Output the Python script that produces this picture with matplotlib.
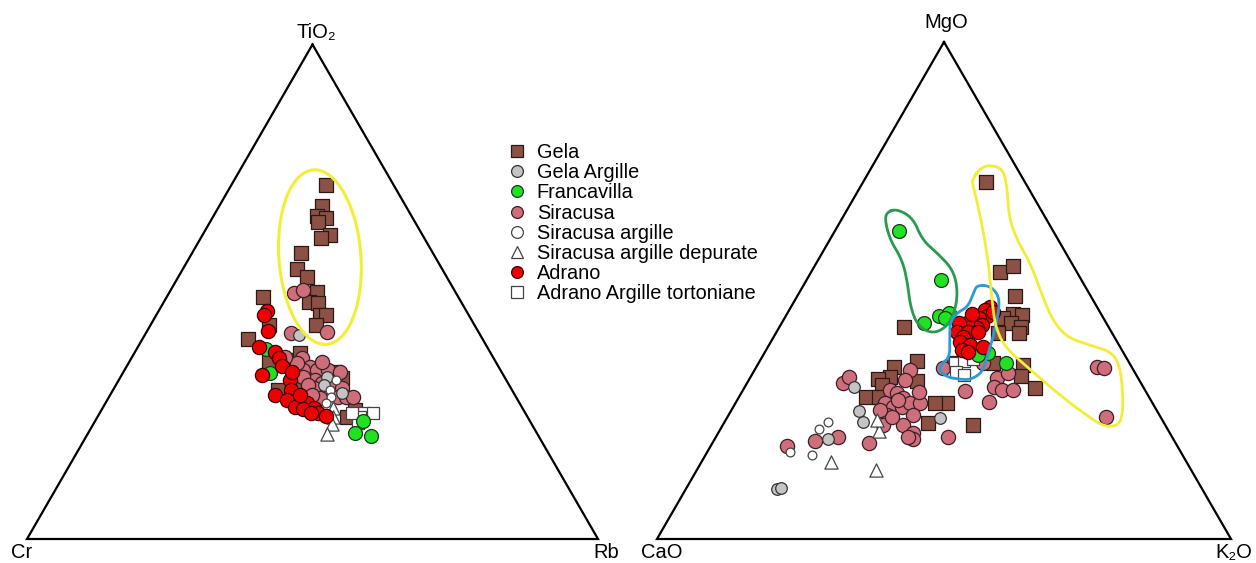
import numpy as np
import matplotlib.pyplot as plt
from matplotlib.lines import Line2D
from matplotlib.patches import Ellipse

plt.rcParams['font.family'] = ['Liberation Sans', 'DejaVu Sans']

# left diagram: (TiO2, Cr, Rb) in %
gela_a = [(71.6, 11.8, 16.6), (67.3, 14.6, 18.1), (65.3, 16.6, 18.1), (64.9, 15.2, 19.9), (64.1, 16.9, 19.0),
          (61.5, 16.2, 22.3), (60.9, 18.1, 21.0), (57.8, 23.1, 19.1), (54.6, 25.4, 20.0), (53.0, 24.5, 22.5),
          (49.9, 24.3, 25.8), (47.9, 26.7, 25.4), (47.7, 25.1, 27.2), (45.3, 26.1, 28.6), (45.3, 25.0, 29.7),
          (43.3, 27.8, 28.9), (48.9, 34.3, 16.8), (43.3, 36.0, 20.7), (40.4, 41.1, 18.5), (35.8, 39.7, 24.5),
          (36.2, 35.3, 28.5), (37.6, 33.4, 29.0), (30.7, 36.5, 32.8), (30.1, 41.0, 28.9), (32.8, 29.7, 37.5),
          (24.7, 31.6, 43.7), (26.1, 29.5, 44.4), (32.6, 28.5, 38.9), (33.8, 29.2, 37.0)]
siracusa_a = [(49.7, 28.4, 21.9), (50.4, 26.5, 23.1), (41.9, 26.5, 31.6), (41.7, 32.9, 25.4), (36.6, 33.5, 29.9),
              (34.8, 33.0, 32.2), (34.2, 34.6, 31.2), (34.2, 32.1, 33.7), (34.2, 30.2, 35.6), (32.2, 33.5, 34.3),
              (32.8, 35.3, 31.9), (31.5, 32.6, 35.9), (31.5, 30.7, 37.8), (30.5, 29.5, 40.0), (30.5, 34.4, 35.1),
              (29.1, 33.0, 37.9), (28.7, 31.2, 40.1), (28.7, 29.7, 41.6), (28.7, 28.6, 42.7), (28.5, 34.5, 37.0),
              (31.1, 35.3, 33.6), (35.6, 34.9, 29.5), (36.8, 36.4, 26.8), (35.8, 30.4, 33.8), (33.8, 28.3, 37.9),
              (29.1, 35.5, 35.4)]
gela_arg_a = [(41.3, 31.7, 27.0), (32.8, 31.1, 36.1), (31.1, 32.4, 36.5), (29.5, 30.0, 40.5)]
sir_arg_a = [(32.2, 29.8, 38.0), (30.1, 31.9, 38.0), (28.7, 32.4, 38.9), (27.5, 33.9, 38.6)]
sir_dep_a = [(26.5, 33.2, 40.3), (24.7, 34.1, 41.2), (23.3, 34.9, 41.8), (21.2, 36.9, 41.9)]
adr_arg_a = [(25.5, 28.3, 46.2), (25.5, 26.7, 47.8), (24.7, 29.3, 46.0), (23.5, 30.3, 46.2), (25.5, 30.3, 44.2)]
franc_a = [(33.6, 40.6, 25.8), (28.5, 38.5, 33.0), (23.9, 29.2, 46.9), (21.4, 31.9, 46.7), (20.8, 29.4, 49.8),
           (38.4, 38.9, 22.7)]
adrano_a = [(46.1, 34.9, 19.0), (45.3, 35.8, 18.9), (42.1, 36.7, 21.2), (38.8, 40.0, 21.2), (37.8, 37.7, 24.5),
            (36.6, 37.6, 25.8), (35.0, 37.8, 27.2), (33.2, 42.2, 24.6), (32.2, 37.8, 30.0), (30.1, 38.8, 31.1),
            (29.1, 42.0, 28.9), (28.1, 40.4, 31.5), (26.7, 39.7, 33.6), (27.5, 37.3, 35.2), (26.5, 36.4, 37.1),
            (25.5, 36.2, 38.3), (24.9, 35.1, 40.0), (26.3, 38.6, 35.1), (25.5, 37.6, 36.9), (33.8, 36.7, 29.5),
            (29.1, 37.6, 33.3)]

# right diagram: (MgO, CaO, K2O) in %
gela_b = [(71.8, 6.8, 21.4), (53.7, 13.4, 32.9), (54.9, 10.6, 34.5), (48.9, 13.1, 38.0), (45.3, 15.4, 39.3),
          (45.1, 13.9, 41.0), (44.5, 17.5, 38.0), (43.5, 16.5, 40.0), (42.7, 15.3, 42.0), (41.4, 16.2, 42.4),
          (41.4, 19.9, 38.7), (42.7, 35.7, 21.6), (35.0, 18.7, 46.3), (32.8, 20.2, 47.0), (30.4, 18.9, 50.7),
          (22.9, 33.5, 43.6), (23.3, 41.2, 35.5), (27.4, 35.8, 36.8), (35.8, 36.8, 27.4), (31.8, 38.8, 29.4),
          (34.6, 41.4, 24.0), (32.6, 43.1, 24.3), (32.2, 45.4, 22.4), (31.0, 45.3, 23.7), (28.6, 49.3, 22.1),
          (28.6, 47.0, 24.4), (27.4, 37.9, 34.7), (35.4, 30.6, 34.0), (35.4, 23.8, 40.8)]
siracusa_b = [(34.6, 6.0, 59.4), (34.4, 4.9, 60.7), (24.5, 9.6, 65.9), (35.4, 25.5, 39.1), (34.4, 33.0, 32.6),
              (32.4, 24.6, 43.0), (30.6, 26.0, 43.4), (30.0, 24.9, 45.1), (30.0, 23.0, 47.0), (27.6, 28.4, 44.0),
              (29.8, 31.4, 38.8), (33.4, 22.2, 44.4), (34.0, 38.9, 27.1), (32.0, 40.8, 27.2), (30.0, 44.4, 25.6),
              (29.4, 43.5, 27.1), (28.4, 42.9, 28.7), (27.4, 46.6, 26.0), (26.6, 45.6, 27.8), (26.6, 44.0, 29.4),
              (27.4, 42.2, 30.4), (27.4, 40.5, 32.1), (24.9, 42.9, 32.2), (24.9, 47.4, 27.7), (22.9, 49.2, 27.9),
              (22.9, 45.7, 31.4), (21.3, 44.7, 34.0), (20.1, 45.3, 34.6), (20.5, 46.1, 33.4), (19.3, 53.5, 27.2),
              (20.5, 39.0, 40.5), (31.4, 51.9, 16.7), (32.6, 50.3, 17.1), (20.5, 58.3, 21.2), (19.7, 62.6, 17.7),
              (18.7, 68.0, 13.3), (24.5, 46.8, 28.7), (28.0, 44.0, 28.0), (26.0, 48.1, 25.9), (29.6, 39.6, 30.8)]
gela_arg_b = [(30.6, 50.4, 19.0), (25.8, 51.9, 22.3), (23.5, 52.4, 24.1), (20.1, 60.2, 19.7), (10.1, 74.0, 15.9),
              (10.3, 73.2, 16.5), (24.3, 38.6, 37.1)]
sir_arg_b = [(23.5, 58.5, 18.0), (22.1, 60.7, 17.2), (16.9, 64.5, 18.6), (17.5, 68.1, 14.4)]
sir_dep_b = [(15.5, 61.9, 22.6), (13.9, 54.9, 31.2), (21.7, 50.5, 27.8), (23.9, 49.7, 26.4)]
adr_arg_b = [(35.4, 30.4, 34.2), (35.8, 28.6, 35.6), (33.6, 31.1, 35.3), (33.0, 30.0, 37.0), (36.2, 26.8, 37.0)]
franc_b = [(62.0, 26.8, 11.2), (52.1, 24.5, 23.4), (44.9, 28.5, 26.6), (45.5, 26.3, 28.2), (44.5, 27.5, 28.0),
           (43.5, 31.7, 24.8), (37.4, 23.6, 39.0), (35.4, 21.5, 43.1), (37.0, 25.6, 37.4)]
adrano_b = [(46.7, 18.6, 34.7), (46.1, 19.8, 34.1), (44.9, 20.0, 35.1), (44.5, 21.6, 33.9), (43.1, 21.8, 35.1),
            (42.5, 23.0, 34.5), (43.5, 24.2, 32.3), (43.5, 25.6, 30.9), (41.6, 26.9, 31.5), (41.6, 25.0, 33.4),
            (40.6, 26.4, 33.0), (39.6, 27.4, 33.0), (39.0, 26.0, 35.0), (38.0, 27.9, 34.1), (37.6, 27.0, 35.4),
            (38.6, 23.9, 37.5), (41.6, 23.3, 35.1), (45.3, 22.4, 32.3), (45.7, 18.6, 35.7)]

# hand drawn fields on the right diagram (MgO, CaO, K2O)
field_franc = [(65.8, 27.0, 7.2), (66.4, 25.0, 8.6), (64.6, 23.1, 12.3), (60.2, 23.7, 16.1), (57.5, 22.4, 20.1),
               (54.1, 21.3, 24.6), (49.5, 22.8, 27.7), (44.7, 26.0, 29.3), (42.1, 29.1, 28.8), (41.4, 31.7, 26.9),
               (43.1, 33.1, 23.8), (46.7, 32.5, 20.8), (51.5, 30.6, 17.9), (56.1, 29.2, 14.7), (60.2, 29.3, 10.5),
               (64.2, 28.2, 7.6)]
field_adrano = [(51.1, 18.7, 30.2), (50.9, 16.5, 32.6), (49.1, 16.0, 34.9), (46.7, 17.0, 36.3), (42.7, 19.7, 37.6),
                (40.0, 21.6, 38.4), (36.6, 24.2, 39.2), (33.4, 26.7, 39.9), (32.0, 29.5, 38.5), (32.2, 31.5, 36.3),
                (32.6, 33.2, 34.2), (34.0, 33.9, 32.1), (35.4, 32.6, 32.0), (36.6, 30.7, 32.7), (40.6, 28.7, 30.7),
                (43.5, 27.2, 29.3), (45.5, 25.0, 29.5), (46.7, 22.5, 30.8), (49.5, 20.1, 30.4)]
field_gela = [(72.6, 8.6, 18.8), (74.6, 6.4, 19.0), (75.3, 4.3, 20.4), (74.4, 2.5, 23.1), (70.8, 3.6, 25.6),
              (64.8, 6.3, 28.9), (60.2, 7.2, 32.6), (55.5, 7.2, 37.3), (50.1, 8.2, 41.7), (44.1, 9.1, 46.8),
              (40.6, 8.3, 51.1), (39.0, 5.1, 55.9), (37.6, 1.9, 60.5), (34.6, 2.0, 63.4), (28.6, 4.5, 66.9),
              (24.5, 6.7, 68.8), (22.7, 8.5, 68.8), (22.7, 11.0, 66.3), (25.4, 13.1, 61.5), (29.4, 15.6, 55.0),
              (34.6, 18.2, 47.2), (38.6, 20.1, 41.3), (42.7, 19.7, 37.6), (48.1, 17.6, 34.3), (54.7, 14.8, 30.5),
              (62.2, 12.1, 25.7), (68.2, 10.2, 21.6), (71.8, 9.2, 19.0)]
# Gela field on the left diagram: centre (TiO2, Cr, Rb)
ellipse_centre = (57.0, 20.2, 22.8)

labels = ["Gela", "Gela Argille", "Francavilla", "Siracusa", "Siracusa argille",
          "Siracusa argille depurate", "Adrano", "Adrano Argille tortoniane"]

# triangle corners (top, left, right) in figure pixels
tri_a = [(312.5, 44.5), (27, 539), (598, 539)]
tri_b = [(944, 42), (657, 539), (1231, 539)]


def tern(pts, tri):
    p = np.array(pts, float)
    p = p / p.sum(axis=1, keepdims=True)
    c = np.array(tri, float)
    xy = p @ c
    return xy[:, 0], xy[:, 1]


def smooth(x, y, n=3):
    # corner cutting so the hand drawn fields look round
    pts = np.column_stack([x, y])
    for _ in range(n):
        nxt = np.roll(pts, -1, axis=0)
        pts = np.column_stack([0.75 * pts + 0.25 * nxt, 0.25 * pts + 0.75 * nxt]).reshape(-1, 2)
    pts = np.vstack([pts, pts[:1]])
    return pts[:, 0], pts[:, 1]


styles = {
    "Gela": dict(marker="s", s=105, c="#8c5045", ec="#2a1a15"),
    "Gela Argille": dict(marker="o", s=70, c="#c4c4c4", ec="#333333"),
    "Francavilla": dict(marker="o", s=100, c="#22e022", ec="#1a3a1a"),
    "Siracusa": dict(marker="o", s=105, c="#cd6e7a", ec="#3a2025"),
    "Siracusa argille": dict(marker="o", s=40, c="white", ec="#444444"),
    "Siracusa argille depurate": dict(marker="^", s=90, c="white", ec="#444444"),
    "Adrano": dict(marker="o", s=105, c="#ee0000", ec="#3a0000"),
    "Adrano Argille tortoniane": dict(marker="s", s=70, c="white", ec="#444444"),
}

data_a = {"Gela": gela_a, "Siracusa": siracusa_a, "Gela Argille": gela_arg_a, "Siracusa argille": sir_arg_a,
          "Siracusa argille depurate": sir_dep_a, "Adrano Argille tortoniane": adr_arg_a,
          "Francavilla": franc_a, "Adrano": adrano_a}
data_b = {"Gela": gela_b, "Siracusa": siracusa_b, "Gela Argille": gela_arg_b, "Siracusa argille": sir_arg_b,
          "Siracusa argille depurate": sir_dep_b, "Adrano Argille tortoniane": adr_arg_b,
          "Francavilla": franc_b, "Adrano": adrano_b}

fig = plt.figure(figsize=(12.56, 5.63), dpi=100)
ax = fig.add_axes([0, 0, 1, 1])
ax.set_xlim(0, 1256)
ax.set_ylim(563, 0)
ax.axis("off")

for tri in (tri_a, tri_b):
    t = np.array(tri + [tri[0]])
    ax.plot(t[:, 0], t[:, 1], color="black", lw=1.6, zorder=1, solid_joinstyle="miter")

for data, tri in ((data_a, tri_a), (data_b, tri_b)):
    for name, pts in data.items():
        x, y = tern(pts, tri)
        st = styles[name]
        ax.scatter(x, y, marker=st["marker"], s=st["s"], c=st["c"], edgecolors=st["ec"],
                   linewidths=0.9, zorder=3)

# fields
ex, ey = tern([ellipse_centre], tri_a)
ax.add_patch(Ellipse((ex[0], ey[0]), width=82, height=175, angle=-4.3, fill=False,
                     ec="#f2ee38", lw=2.2, zorder=4))
for field, col in ((field_franc, "#2a9a50"), (field_adrano, "#2b9ad6"), (field_gela, "#f2ee38")):
    x, y = tern(field, tri_b)
    x, y = smooth(x, y)
    ax.plot(x, y, color=col, lw=2.0, zorder=4)

# vertex labels
ax.text(316, 32, "TiO₂", ha="center", va="center", fontsize=14.5)
ax.text(22, 552, "Cr", ha="center", va="center", fontsize=14.5)
ax.text(606, 552, "Rb", ha="center", va="center", fontsize=14.5)
ax.text(946, 23, "MgO", ha="center", va="center", fontsize=14.5)
ax.text(662, 552, "CaO", ha="center", va="center", fontsize=14.5)
ax.text(1234, 552, "K₂O", ha="center", va="center", fontsize=14.5)

handles = []
for name in labels:
    st = styles[name]
    handles.append(Line2D([], [], ls="none", marker=st["marker"], markersize=8.5,
                          markerfacecolor=st["c"], markeredgecolor=st["ec"], markeredgewidth=0.9))
ax.legend(handles, labels, loc="upper left", bbox_to_anchor=(507 / 1256, 1 - 143 / 563), frameon=False,
          fontsize=14.3, handlelength=1.0, handletextpad=0.5, labelspacing=0.06, borderpad=0, borderaxespad=0)

fig.savefig("out.png", dpi=100)
